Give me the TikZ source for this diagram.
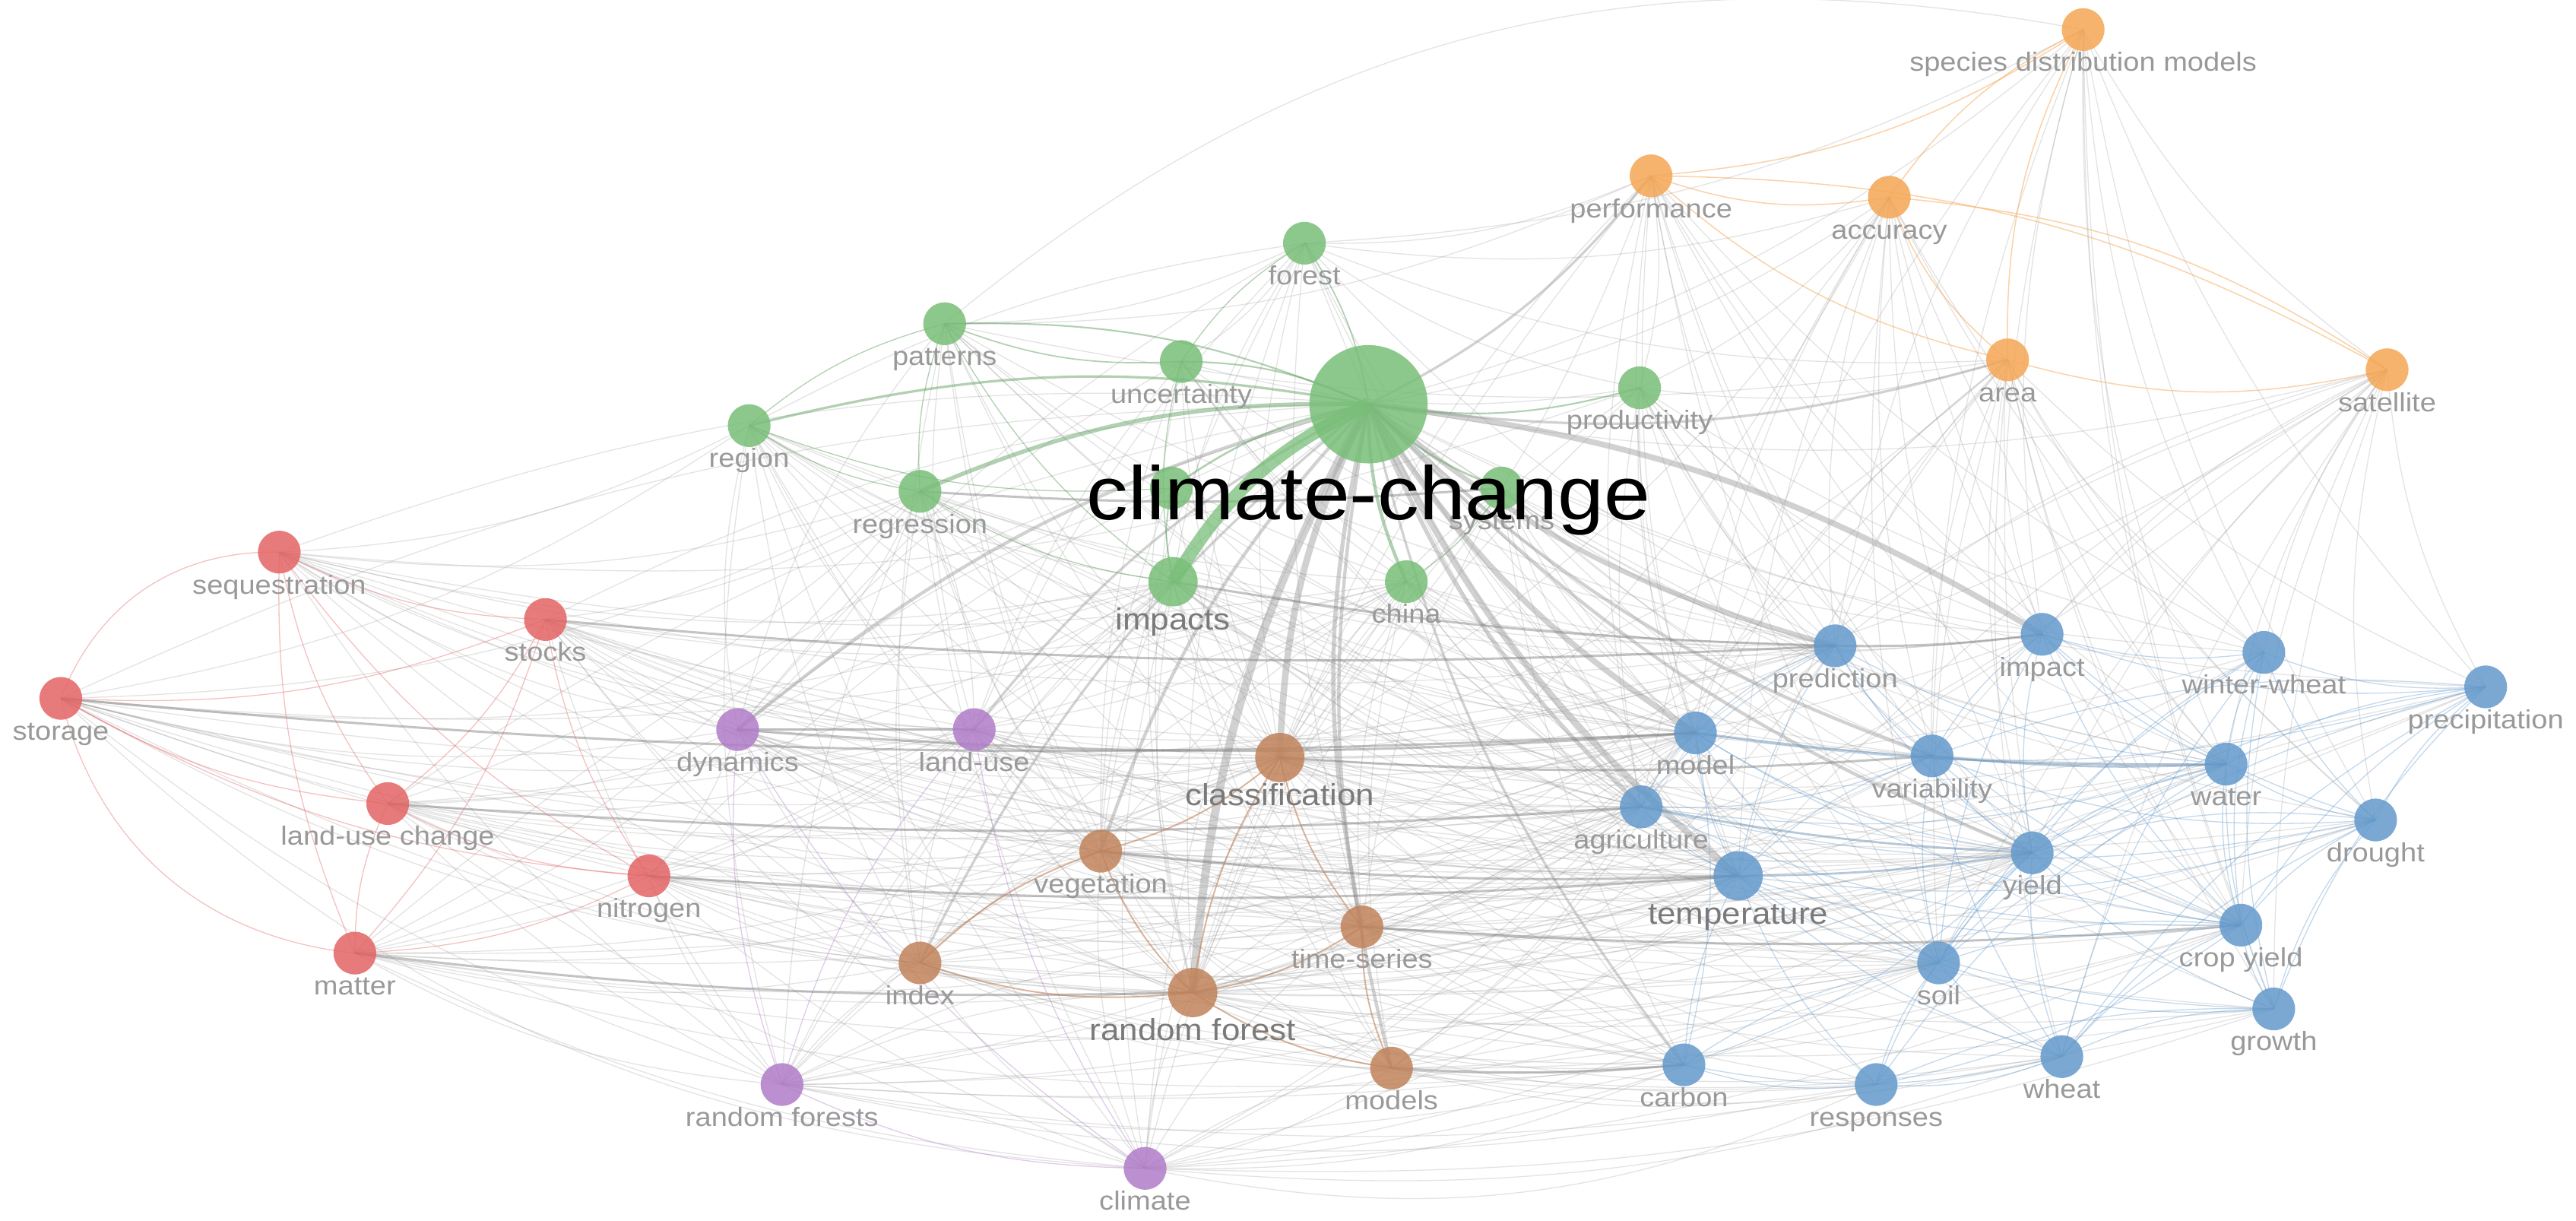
\documentclass[tikz,border=0pt]{standalone}
\usepackage{fontspec}
\newfontfamily\labfont[FakeStretch=1.1]{Liberation Sans}
\pgfdeclarelayer{edges}
\pgfsetlayers{edges,main}
\definecolor{cgreen}{HTML}{78BE78}
\definecolor{cred}{HTML}{E36464}
\definecolor{corange}{HTML}{F5A654}
\definecolor{cblue}{HTML}{6399CB}
\definecolor{cpurple}{HTML}{B07CC8}
\definecolor{cbrown}{HTML}{C0825A}
\definecolor{labgray}{HTML}{999999}
\definecolor{labgrayL}{HTML}{7A7A7A}
\definecolor{edgegray}{HTML}{9A9A9A}
\begin{document}
\begin{tikzpicture}[x=0.6pt,y=-0.6pt,
  kw/.style={circle,inner sep=0pt,minimum size=15.6pt,fill opacity=0.85},
  kwL/.style={kw,minimum size=18pt,label distance=-1.2pt},
  lab/.style={font=\labfont\fontsize{9.6}{9.6}\selectfont,text=labgray,inner sep=0pt,
    text height=7.02pt,text depth=2.04pt,fill opacity=1,text opacity=1},
  labL/.style={lab,font=\labfont\fontsize{11.1}{11.1}\selectfont,text=labgrayL,
    text height=8.1pt,text depth=2.34pt},
  labcc/.style={lab,font=\labfont\fontsize{27.6}{27.6}\selectfont,text=black,
    text height=20.1pt,text depth=5.82pt},
  eg/.style={draw=edgegray,line width=0.36pt,draw opacity=0.28},
  em/.style={draw=edgegray!80!black,line width=0.84pt,draw opacity=0.45},
  er/.style={draw=cred,line width=0.36pt,draw opacity=0.4},
  eo/.style={draw=corange,line width=0.42pt,draw opacity=0.5},
  eb/.style={draw=cblue,line width=0.36pt,draw opacity=0.38},
  ebr/.style={draw=cbrown,line width=0.54pt,draw opacity=0.6},
  ep/.style={draw=cpurple,line width=0.36pt,draw opacity=0.4},
  egr/.style={draw=cgreen!85!black,line width=0.48pt,draw opacity=0.5}]
\useasboundingbox (0,0) rectangle (1568,743);
% orange
\node[kw,fill=corange,label={[lab]below:species distribution models}] (sdm) at (1268,18) {};
\node[kw,fill=corange,label={[lab]below:performance}] (perf) at (1005,107) {};
\node[kw,fill=corange,label={[lab]below:accuracy}] (acc) at (1150,120) {};
\node[kw,fill=corange,label={[lab]below:area}] (area) at (1222,219) {};
\node[kw,fill=corange,label={[lab]below:satellite}] (sat) at (1453,225) {};
% green
\node[kw,fill=cgreen,label={[lab]below:forest}] (forest) at (794,148) {};
\node[kw,fill=cgreen,label={[lab]below:patterns}] (patterns) at (575,197) {};
\node[kw,fill=cgreen,label={[lab]below:uncertainty}] (unc) at (719,220) {};
\node[kw,fill=cgreen,label={[lab]below:productivity}] (prod) at (998,236) {};
\node[kw,fill=cgreen,label={[lab]below:region}] (region) at (456,259) {};
\node[kw,fill=cgreen,label={[lab]below:regression}] (regr) at (560,299) {};
\node[kw,fill=cgreen] (hid) at (713,297) {};
\node[kw,fill=cgreen,label={[lab]below:systems}] (sys) at (914,297) {};
\node[kwL,fill=cgreen,label={[labL]below:impacts}] (impacts) at (714,354) {};
\node[kw,fill=cgreen,label={[lab]below:china}] (china) at (856,354) {};
% red
\node[kw,fill=cred,label={[lab]below:sequestration}] (seq) at (170,336) {};
\node[kw,fill=cred,label={[lab]below:stocks}] (stocks) at (332,377) {};
\node[kw,fill=cred,label={[lab]below:storage}] (storage) at (37,425) {};
\node[kw,fill=cred,label={[lab]below:land-use change}] (luc) at (236,489) {};
\node[kw,fill=cred,label={[lab]below:nitrogen}] (nitrogen) at (395,533) {};
\node[kw,fill=cred,label={[lab]below:matter}] (matter) at (216,580) {};
% purple
\node[kw,fill=cpurple,label={[lab]below:dynamics}] (dyn) at (449,444) {};
\node[kw,fill=cpurple,label={[lab]below:land-use}] (landuse) at (593,444) {};
\node[kw,fill=cpurple,label={[lab]below:random forests}] (rfs) at (476,660) {};
\node[kw,fill=cpurple,label={[lab]below:climate}] (climate) at (697,711) {};
% brown
\node[kwL,fill=cbrown,label={[labL]below:classification}] (class) at (779,461) {};
\node[kw,fill=cbrown,label={[lab]below:vegetation}] (veg) at (670,518) {};
\node[kw,fill=cbrown,label={[lab]below:time-series}] (ts) at (829,564) {};
\node[kw,fill=cbrown,label={[lab]below:index}] (index) at (560,586) {};
\node[kwL,fill=cbrown,label={[labL]below:random forest}] (rf) at (726,604) {};
\node[kw,fill=cbrown,label={[lab]below:models}] (models) at (847,650) {};
% blue
\node[kw,fill=cblue,label={[lab]below:prediction}] (pred) at (1117,393) {};
\node[kw,fill=cblue,label={[lab]below:impact}] (impact) at (1243,386) {};
\node[kw,fill=cblue,label={[lab]below:winter-wheat}] (ww) at (1378,397) {};
\node[kw,fill=cblue,label={[lab]below:precipitation}] (precip) at (1513,418) {};
\node[kw,fill=cblue,label={[lab]below:model}] (model) at (1032,446) {};
\node[kw,fill=cblue,label={[lab]below:variability}] (var) at (1176,460) {};
\node[kw,fill=cblue,label={[lab]below:water}] (water) at (1355,465) {};
\node[kw,fill=cblue,label={[lab]below:agriculture}] (agri) at (999,491) {};
\node[kw,fill=cblue,label={[lab]below:drought}] (drought) at (1446,499) {};
\node[kw,fill=cblue,label={[lab]below:yield}] (yield) at (1237,519) {};
\node[kwL,fill=cblue,label={[labL]below:temperature}] (temp) at (1058,533) {};
\node[kw,fill=cblue,label={[lab]below:crop yield}] (cy) at (1364,563) {};
\node[kw,fill=cblue,label={[lab]below:soil}] (soil) at (1180,586) {};
\node[kw,fill=cblue,label={[lab]below:growth}] (growth) at (1384,614) {};
\node[kw,fill=cblue,label={[lab]below:carbon}] (carbon) at (1025,648) {};
\node[kw,fill=cblue,label={[lab]below:responses}] (resp) at (1142,660) {};
\node[kw,fill=cblue,label={[lab]below:wheat}] (wheat) at (1255,643) {};
% central
\node[kw,minimum size=43.2pt,fill=cgreen,label distance=-3.96pt,label={[labcc]below:climate-change}] (cc) at (833,246) {};

\begin{pgfonlayer}{edges}
% thin gray edges
\foreach \a/\b in {cc/seq,cc/stocks,cc/storage,cc/luc,cc/nitrogen,cc/matter,cc/rfs,cc/climate,
  cc/ww,cc/precip,cc/water,cc/drought,cc/cy,cc/soil,cc/growth,cc/resp,cc/wheat,cc/acc,cc/sat,cc/sdm,
  storage/impacts,storage/dyn,storage/class,storage/rf,storage/veg,storage/temp,storage/landuse,storage/regr,storage/region,storage/index,
  seq/region,seq/regr,seq/impacts,seq/dyn,seq/class,seq/temp,seq/prod,seq/landuse,seq/veg,
  stocks/impacts,stocks/china,stocks/dyn,stocks/landuse,stocks/class,stocks/veg,stocks/rf,stocks/temp,stocks/model,stocks/regr,
  luc/dyn,luc/landuse,luc/class,luc/rf,luc/index,luc/regr,luc/impacts,luc/veg,
  nitrogen/dyn,nitrogen/landuse,nitrogen/class,nitrogen/veg,nitrogen/index,nitrogen/rf,nitrogen/yield,nitrogen/model,nitrogen/rfs,
  matter/dyn,matter/landuse,matter/class,matter/index,matter/impacts,matter/veg,matter/temp,matter/rfs,matter/regr,
  region/impacts,region/dyn,region/class,region/model,region/rfs,region/landuse,region/temp,
  patterns/forest,patterns/landuse,patterns/class,patterns/perf,patterns/dyn,patterns/model,patterns/rf,
  unc/forest,unc/model,unc/class,unc/pred,unc/prod,unc/rf,
  forest/perf,forest/prod,forest/impacts,forest/class,forest/rf,forest/area,forest/acc,forest/sdm,forest/model,
  prod/perf,prod/acc,prod/area,prod/impact,prod/pred,prod/model,prod/temp,prod/yield,
  sys/model,sys/temp,sys/impact,sys/pred,sys/class,sys/agri,sys/yield,
  impacts/class,impacts/veg,impacts/rf,impacts/ts,impacts/landuse,impacts/dyn,impacts/model,impacts/temp,impacts/index,impacts/rfs,impacts/climate,impacts/agri,impacts/yield,
  china/pred,china/impact,china/class,china/rf,china/ts,china/models,china/model,china/temp,china/var,china/yield,
  dyn/class,dyn/veg,dyn/rf,dyn/index,dyn/regr,dyn/temp,dyn/agri,
  landuse/model,landuse/class,landuse/veg,landuse/rf,landuse/index,landuse/temp,landuse/agri,landuse/regr,
  class/model,class/agri,class/temp,class/pred,class/index,class/rfs,class/climate,class/acc,class/area,class/sat,class/yield,class/soil,class/perf,
  veg/agri,veg/model,veg/ts,veg/rfs,veg/climate,veg/models,veg/carbon,
  ts/soil,ts/temp,ts/model,ts/agri,ts/yield,ts/climate,ts/index,ts/rfs,ts/pred,
  index/models,index/climate,index/rfs,index/temp,index/carbon,
  rf/carbon,rf/temp,rf/yield,rf/climate,rf/rfs,rf/agri,rf/model,rf/acc,rf/area,rf/sat,rf/cy,rf/soil,rf/resp,rf/wheat,rf/pred,
  models/wheat,models/resp,models/climate,models/rfs,models/temp,models/model,
  rfs/carbon,rfs/resp,rfs/model,rfs/temp,
  climate/carbon,climate/wheat,climate/models,climate/yield,climate/temp,
  perf/model,perf/pred,perf/temp,perf/class,perf/agri,perf/yield,
  acc/pred,acc/impact,acc/model,acc/yield,acc/cy,
  area/impact,area/yield,area/ww,area/pred,area/model,area/temp,area/agri,area/water,area/var,
  sat/impact,sat/ww,sat/precip,sat/yield,sat/water,sat/cy,sat/pred,sat/drought,
  sdm/yield,sdm/ww,sdm/impact,sdm/sat,sdm/pred,sdm/water}
  \draw[eg] (\a.center) to[bend right=12] (\b.center);
\foreach \a/\b in {storage/pred,storage/china,storage/agri,storage/rfs,storage/ts,storage/yield,
  seq/china,seq/rf,seq/model,seq/pred,seq/index,seq/agri,seq/rfs,
  stocks/ts,stocks/agri,stocks/index,stocks/yield,stocks/climate,stocks/rfs,
  luc/temp,luc/model,luc/ts,luc/rfs,luc/climate,luc/china,
  nitrogen/ts,nitrogen/agri,nitrogen/climate,nitrogen/impacts,nitrogen/soil,nitrogen/carbon,
  matter/ts,matter/agri,matter/climate,matter/model,matter/carbon,matter/soil,
  region/ts,region/rf,region/veg,region/index,region/pred,region/agri,region/china,region/climate,
  patterns/veg,patterns/ts,patterns/temp,patterns/agri,patterns/index,patterns/china,patterns/pred,patterns/area,
  regr/class,regr/rf,regr/veg,regr/ts,regr/model,regr/temp,regr/index,regr/rfs,regr/climate,regr/pred,regr/agri,regr/yield,
  unc/ts,unc/temp,unc/agri,unc/landuse,unc/dyn,unc/veg,unc/china,
  forest/temp,forest/pred,forest/agri,forest/veg,forest/ts,forest/landuse,forest/dyn,forest/region,
  prod/agri,prod/var,prod/water,prod/ww,prod/class,prod/rf,prod/cy,prod/soil,
  sys/var,sys/water,sys/ts,sys/rf,sys/soil,sys/carbon,sys/cy,
  hid/class,hid/rf,hid/veg,hid/temp,hid/model,hid/dyn,
  china/agri,china/soil,china/carbon,china/climate,china/index,china/veg,
  impacts/impact,impacts/var,impacts/water,impacts/models,impacts/carbon,impacts/soil,impacts/cy,impacts/wheat,
  dyn/ts,dyn/models,dyn/pred,dyn/yield,dyn/soil,dyn/carbon,
  landuse/ts,landuse/models,landuse/pred,landuse/yield,landuse/carbon,landuse/soil,landuse/china,
  class/water,class/drought,class/cy,class/carbon,class/resp,class/wheat,class/impact,class/precip,class/ww,class/growth,class/models,
  veg/pred,veg/var,veg/yield,veg/soil,veg/water,veg/precip,veg/drought,veg/cy,
  ts/var,ts/carbon,ts/resp,ts/growth,ts/wheat,ts/water,ts/drought,ts/precip,
  index/agri,index/model,index/yield,index/soil,index/resp,
  rf/var,rf/water,rf/drought,rf/precip,rf/growth,rf/impact,rf/ww,
  models/agri,models/yield,models/soil,models/cy,models/growth,models/pred,
  rfs/yield,rfs/soil,rfs/agri,rfs/wheat,rfs/cy,
  climate/soil,climate/cy,climate/growth,climate/agri,climate/model,
  perf/var,perf/water,perf/impact,perf/soil,perf/cy,perf/rf,perf/ww,
  acc/var,acc/water,acc/temp,acc/agri,acc/ww,acc/soil,acc/drought,
  area/drought,area/cy,area/soil,area/growth,area/wheat,area/precip,
  sat/var,sat/growth,sat/temp,sat/model,sat/soil,sat/wheat,
  sdm/var,sdm/drought,sdm/cy,sdm/precip,sdm/growth,sdm/model}
  \draw[eg] (\a.center) to[bend right=10] (\b.center);
\draw[eg] (sdm.center) to[bend right=25] (patterns.center);
\draw[eg] (climate.center) to[bend right=18] (resp.center);
\draw[eg] (storage.center) to[bend right=20] (climate.center);
% weighted edges from climate-change
\foreach \a/\b/\w in {cc/rf/5,cc/class/4,cc/temp/4,cc/model/3.5,impact/cc/3.5,cc/pred/3,cc/agri/2.5,
  cc/dyn/2,cc/veg/2,cc/ts/2.5,cc/yield/2,cc/var/2,cc/perf/1.5,cc/area/1.5,cc/landuse/1.5,
  cc/index/1.5,cc/models/2,cc/carbon/1.5}
  \draw[draw=edgegray,draw opacity=0.45,line width=0.6*\w pt] (\a.center) to[bend right=12] (\b.center);
% medium gray edges
\foreach \a/\b in {dyn/model,impacts/pred,class/var,veg/temp,matter/rf,nitrogen/temp,
  regr/sys,models/carbon,luc/agri,ts/cy,pred/impact,stocks/pred,storage/model}
  \draw[em] (\a.center) to[bend right=4] (\b.center);
% red cluster
\draw[er] (seq.center) to[bend right=35] (storage.center);
\draw[er] (storage.center) to[bend right=35] (matter.center);
\foreach \a/\b in {seq/stocks,seq/luc,seq/matter,seq/nitrogen,storage/stocks,storage/luc,storage/nitrogen,
  luc/stocks,luc/matter,luc/nitrogen,matter/nitrogen,matter/stocks,stocks/nitrogen}
  \draw[er] (\a.center) to[bend right=12] (\b.center);
% orange cluster
\foreach \a/\b in {perf/acc,perf/sdm,acc/area,sat/acc,area/sat,sdm/acc,sdm/area,perf/area,sat/perf}
  \draw[eo] (\a.center) to[bend right=14] (\b.center);
% brown cluster
\foreach \a/\b in {class/rf,rf/ts,class/ts,veg/index,index/rf,ts/models,rf/models,veg/class,veg/rf}
  \draw[ebr] (\a.center) to[bend right=12] (\b.center);
% purple cluster
\foreach \a/\b in {dyn/rfs,landuse/rfs,rfs/climate,dyn/climate,landuse/climate}
  \draw[ep] (\a.center) to[bend right=12] (\b.center);
\draw[draw=edgegray!80!black,line width=0.78pt,draw opacity=0.5] (dyn.center) to (landuse.center);
% green cluster
\foreach \a/\b/\w in {cc/forest/0.8,cc/patterns/1,cc/unc/1,cc/prod/1,cc/region/1.5,cc/regr/2.5,
  cc/sys/1.2,cc/hid/1.2,cc/china/2,patterns/unc/0.8,patterns/region/0.6,regr/impacts/0.6,unc/impacts/0.6,
  region/regr/0.6,patterns/impacts/0.6,forest/unc/0.6,hid/impacts/0.6,china/sys/0.6,patterns/regr/0.6,region/hid/0.6}
  \draw[egr,line width=0.6*\w pt] (\a.center) to[bend right=12] (\b.center);
\draw[draw=cgreen,draw opacity=0.75,line width=4.8pt] (cc.center) to[bend right=17] (impacts.center);
% blue cluster
\foreach \a/\b in {pred/model,pred/var,pred/water,impact/ww,impact/var,impact/water,impact/yield,impact/precip,
  ww/precip,ww/water,ww/yield,ww/drought,precip/water,precip/drought,precip/yield,precip/var,precip/cy,precip/growth,
  model/agri,model/temp,model/yield,var/yield,var/temp,var/cy,water/drought,water/yield,water/cy,water/growth,
  agri/temp,agri/var,agri/water,drought/yield,drought/cy,drought/growth,drought/wheat,yield/cy,yield/soil,
  yield/wheat,yield/resp,yield/growth,temp/soil,temp/carbon,temp/resp,temp/wheat,temp/cy,cy/growth,cy/wheat,
  cy/soil,soil/carbon,soil/resp,soil/wheat,soil/growth,growth/wheat,growth/resp,carbon/resp,carbon/wheat,
  resp/wheat,carbon/model,impact/cy,ww/cy,ww/growth,ww/wheat,pred/temp,pred/agri,model/precip,var/drought,
  pred/yield,pred/cy,impact/drought,impact/soil,ww/soil,precip/soil,precip/wheat,water/soil,water/resp,
  model/cy,model/soil,agri/cy,agri/drought,var/soil,var/wheat,temp/growth,temp/drought,carbon/yield,resp/cy}
  \draw[eb] (\a.center) to[bend right=12] (\b.center);
\foreach \a/\b in {model/water,temp/yield,agri/yield,var/water}
  \draw[draw=cblue!70!gray,line width=0.78pt,draw opacity=0.5] (\a.center) to[bend right=4] (\b.center);
\end{pgfonlayer}
\end{tikzpicture}
\end{document}
